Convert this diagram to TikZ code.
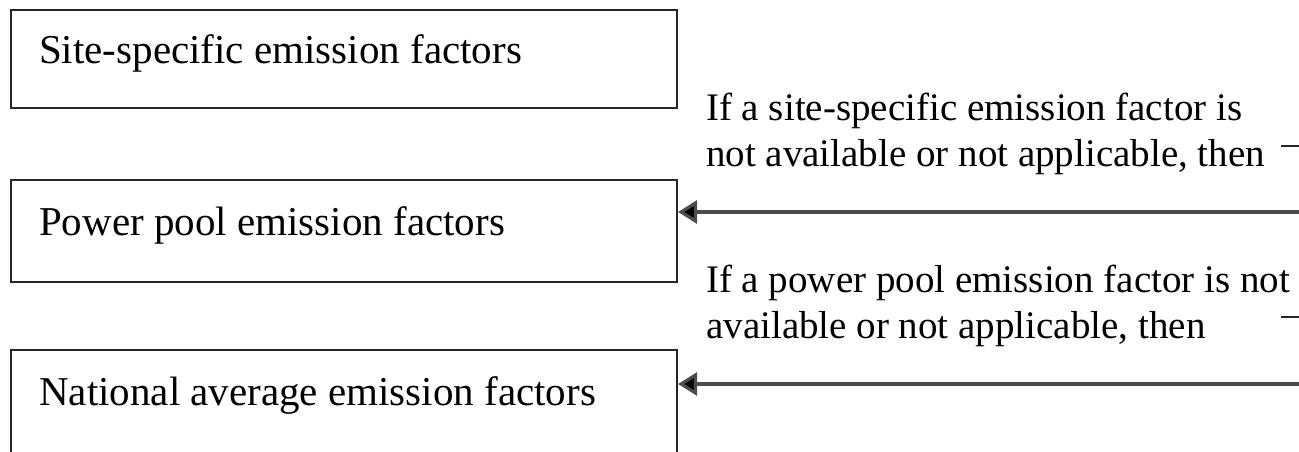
\documentclass[tikz,border=0pt]{standalone}
\usepackage{fontspec}
\setmainfont{Liberation Serif}
\usetikzlibrary{arrows.meta}

\begin{document}
\begin{tikzpicture}[
                x = 1pt, y = -1pt,
                factorbox/.style = {draw = black!85, line width = 2.2pt, rectangle, minimum width = 666pt, inner sep = 0pt},
                boxtext/.style = {anchor = base west, inner sep = 0pt, font = \fontsize{41}{47}\selectfont},
                note/.style = {anchor = base west, inner sep = 0pt, align = left, font = \fontsize{39}{46}\selectfont},
                feed/.style = {draw = black!70, line width = 3.2pt, -{Triangle[length = 19pt, width = 23pt, fill = black]}},
                stub/.style = {draw = black!85, line width = 2.2pt},
            ]
            \useasboundingbox (0,0) rectangle (1299,452);
            \clip (0,0) rectangle (1299,452);

            \node (site) [factorbox, minimum height = 98pt] at (344,59) {};
            \node (pool) [factorbox, minimum height = 102pt] at (344,231) {};
            \node (natl) [factorbox, minimum height = 112pt] at (344,406) {};

            \node (sitetext) [boxtext] at (39,64) {Site-specific emission factors};
            \node (pooltext) [boxtext] at (39,235) {Power pool emission factors};
            \node (natltext) [boxtext] at (39,405) {National average emission factors};

            % base anchor sits on the last line here
            \node (ifsite) [note] at (706,166) {If a site-specific emission factor is\\not available or not applicable, then};
            \node (ifpool) [note] at (706,338) {If a power pool emission factor is not\\available or not applicable, then};

            \coordinate (in1) at (1299,212);
            \coordinate (in2) at (1299,384);
            \path[feed] (in1) -- (pool.east |- in1);
            \path[feed] (in2) -- (natl.east |- in2);

            \coordinate (cut1) at (1281,146);
            \coordinate (cut2) at (1281,317);
            \path[stub] (cut1) -- ++(20,0);
            \path[stub] (cut2) -- ++(20,0);
        \end{tikzpicture}
\end{document}
